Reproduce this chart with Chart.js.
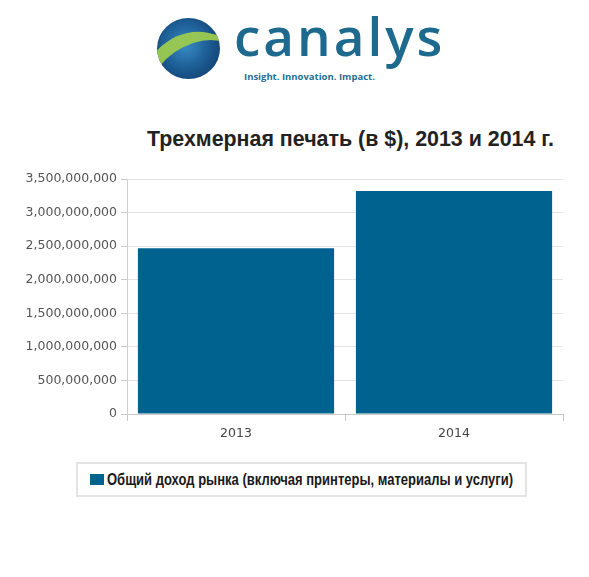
<!DOCTYPE html>
<html>
<head>
<meta charset="utf-8">
<script src="https://cdn.jsdelivr.net/npm/chart.js@4.4.1/dist/chart.umd.min.js"></script>
<style>
  body { margin: 0; background: #fff; width: 589px; height: 577px; position: relative; overflow: hidden; }
  .globe { position: absolute; left: 157px; top: 18px; width: 63px; height: 61px; border-radius: 50%; overflow: hidden;
    background: radial-gradient(circle at 45% 45%, #3a8cc4 0%, #1f6098 45%, #134273 80%, #0c2f5a 100%); }
  .globe .swoosh { position: absolute; left: -14px; top: 14px; width: 110px; height: 96px; border-radius: 50%;
    border-top: 13px solid #9ccb4f; transform: rotate(-35deg); opacity: 0.95; }
  .brand { position: absolute; left: 234px; top: 9px; font: 600 53px/1 "Open Sans", sans-serif; color: #1d6a8e; letter-spacing: 3px; }
  .tagline { position: absolute; left: 244px; top: 72px; font: 700 9.5px/1 "Open Sans", sans-serif; color: #1f6f96; }
  .title { position: absolute; left: 147px; top: 129px; font: 700 21.4px/1 "Liberation Sans", Arial, sans-serif; color: #222; white-space: nowrap; }
  #wrap { position: absolute; left: 0; top: 160px; width: 589px; height: 290px; }
  .legend { position: absolute; left: 76px; top: 462px; width: 451px; height: 35px; box-sizing: border-box;
    border: 2px solid #e4e4e4; display: flex; align-items: center; padding-left: 12px; }
  .legend .sw { flex: 0 0 auto; width: 14px; height: 11px; margin-right: 3px; }
  .legend .tx { flex: 0 0 auto; font: 700 16px/1 "Liberation Sans Narrow", "Liberation Sans", Arial, sans-serif; color: #1a1a1a; white-space: nowrap; display: inline-block; transform-origin: left center; }
</style>
</head>
<body>
<div class="globe"><div class="swoosh"></div></div>
<div class="brand">canalys</div>
<div class="tagline">Insight. Innovation. Impact.</div>
<div class="title">Трехмерная печать (в $), 2013 и 2014 г.</div>
<div id="wrap"><canvas id="myChart"></canvas></div>
<div class="legend" id="legend"></div>
<script>
const years = ['2013', '2014'];
const revenue = [2470000000, 3320000000];
const seriesName = 'Общий доход рынка (включая принтеры, материалы и услуги)';
const barColor = '#00628e';

drawChart();
drawLegend();

function drawChart() {
  const ctx = document.getElementById('myChart').getContext('2d');
  new Chart(ctx, {
    type: 'bar',
    data: {
      labels: years,
      datasets: [{
        label: seriesName,
        data: revenue,
        backgroundColor: barColor,
        borderWidth: 0,
        barPercentage: 0.9,
        categoryPercentage: 1.0
      }]
    },
    options: {
      responsive: true,
      maintainAspectRatio: false,
      animation: false,
      layout: { padding: { top: 19, right: 26, left: 0, bottom: 0 } },
      plugins: {
        legend: { display: false },
        tooltip: { enabled: false },
        title: { display: false }
      },
      scales: {
        x: {
          afterFit: scale => { scale.height = 36; },
          grid: { offset: true, drawOnChartArea: false, tickLength: 7, color: '#c8c8c8' },
          border: { color: '#c8c8c8' },
          ticks: { padding: 5, color: '#444', font: { family: 'DejaVu Sans', size: 12.5 } }
        },
        y: {
          min: 0,
          max: 3500000000,
          afterFit: scale => { scale.width = 127; },
          grid: { color: '#e3e3e3', tickLength: 6, tickColor: '#c8c8c8' },
          border: { color: '#cfcfcf' },
          ticks: {
            stepSize: 500000000,
            padding: 4,
            color: '#555',
            font: { family: 'DejaVu Sans', size: 12.5 },
            callback: v => v.toLocaleString('en-US')
          }
        }
      }
    }
  });
}

function drawLegend() {
  // legend box built from the dataset name and colour
  const box = document.getElementById('legend');
  box.innerHTML = '<span class="sw" style="background:' + barColor + '"></span><span class="tx">' + seriesName + '</span>';
  const tx = box.querySelector('.tx');
  const w = tx.getBoundingClientRect().width;
  if (w > 0) tx.style.transform = 'scaleX(' + (406 / w) + ')';
}
</script>
</body>
</html>
